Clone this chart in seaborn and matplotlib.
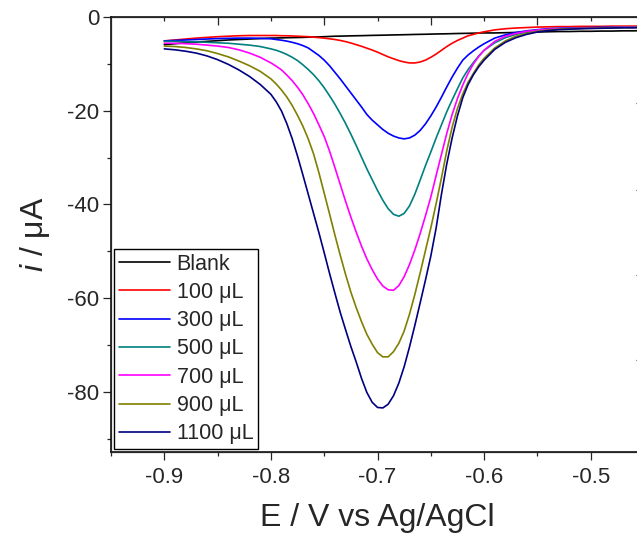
import numpy as np
import matplotlib
matplotlib.use("Agg")
import matplotlib.pyplot as plt
import seaborn as sns
import pandas as pd

# potential (V vs Ag/AgCl), finer around the peaks
E = [-0.90, -0.89, -0.88, -0.87, -0.86, -0.85, -0.84, -0.83, -0.82, -0.81,
     -0.800, -0.795, -0.790, -0.785, -0.780, -0.775, -0.770, -0.765, -0.760, -0.755,
     -0.750, -0.745, -0.740, -0.735, -0.730, -0.725, -0.720, -0.715, -0.710, -0.705,
     -0.700, -0.695, -0.690, -0.685, -0.680, -0.675, -0.670, -0.665, -0.660, -0.655,
     -0.650, -0.645, -0.640, -0.635, -0.630, -0.625, -0.620, -0.615, -0.610, -0.605,
     -0.60, -0.59, -0.58, -0.57, -0.56, -0.55, -0.54, -0.53, -0.52, -0.51,
     -0.50, -0.49, -0.48, -0.47, -0.46, -0.45]

blank = [-5.9, -5.7, -5.5, -5.35, -5.2, -5.05, -4.9, -4.8, -4.7, -4.6,
         -4.5, -4.48, -4.45, -4.42, -4.4, -4.37, -4.35, -4.3, -4.27, -4.25,
         -4.2, -4.15, -4.1, -4.08, -4.05, -4.02, -4.0, -3.98, -3.95, -3.92,
         -3.9, -3.88, -3.85, -3.82, -3.8, -3.78, -3.75, -3.72, -3.7, -3.68,
         -3.65, -3.62, -3.6, -3.58, -3.55, -3.52, -3.5, -3.48, -3.45, -3.42,
         -3.4, -3.4, -3.35, -3.3, -3.25, -3.2, -3.15, -3.1, -3.1, -3.05,
         -3.05, -3.0, -3.0, -2.95, -2.95, -2.9]
ul100 = [-5.1, -4.9, -4.7, -4.5, -4.35, -4.2, -4.1, -4.0, -3.95, -3.95,
         -3.95, -3.95, -4.0, -4.0, -4.05, -4.1, -4.15, -4.2, -4.3, -4.4,
         -4.5, -4.65, -4.8, -5.0, -5.25, -5.55, -5.9, -6.25, -6.65, -7.05,
         -7.5, -8.0, -8.5, -8.9, -9.3, -9.6, -9.8, -9.8, -9.6, -9.2,
         -8.6, -7.9, -7.1, -6.3, -5.6, -5.0, -4.5, -4.0, -3.7, -3.4,
         -3.15, -2.75, -2.5, -2.35, -2.25, -2.15, -2.1, -2.05, -2.05, -2.0,
         -2.0, -2.0, -1.95, -1.95, -1.95, -1.9]
ul300 = [-5.1, -5.0, -4.9, -4.8, -4.7, -4.6, -4.55, -4.5, -4.5, -4.55,
         -4.65, -4.8, -4.95, -5.15, -5.4, -5.7, -6.1, -6.6, -7.4, -8.2,
         -9.2, -10.4, -11.8, -13.2, -14.7, -16.2, -17.7, -19.2, -20.8, -22.0,
         -23.0, -24.0, -24.8, -25.4, -25.8, -26.0, -25.8, -25.2, -24.2, -22.8,
         -21.1, -19.2, -17.1, -14.9, -12.8, -10.9, -9.2, -8.1, -7.2, -6.4,
         -5.7, -4.5, -3.8, -3.3, -2.95, -2.7, -2.5, -2.4, -2.35, -2.3,
         -2.25, -2.2, -2.2, -2.15, -2.15, -2.1]
ul500 = [-5.2, -5.2, -5.3, -5.3, -5.4, -5.5, -5.6, -5.8, -6.0, -6.3,
         -6.8, -7.1, -7.5, -8.0, -8.6, -9.3, -10.2, -11.2, -12.3, -13.6,
         -15.1, -16.8, -18.6, -20.6, -22.7, -25.0, -27.4, -29.9, -32.4, -34.7,
         -37.0, -39.1, -40.9, -42.1, -42.5, -41.9, -40.3, -37.8, -34.8, -31.7,
         -28.8, -25.8, -23.0, -20.2, -17.7, -15.3, -13.0, -11.2, -9.7, -8.3,
         -7.1, -5.5, -4.4, -3.7, -3.2, -2.9, -2.7, -2.55, -2.45, -2.4,
         -2.35, -2.3, -2.25, -2.2, -2.2, -2.15]
ul700 = [-5.6, -5.6, -5.7, -5.8, -6.0, -6.2, -6.5, -7.0, -7.7, -8.6,
         -9.8, -10.5, -11.3, -12.4, -13.6, -15.0, -16.6, -18.5, -20.6, -23.0,
         -25.5, -28.6, -32.1, -35.7, -39.3, -42.7, -45.9, -48.9, -51.6, -53.9,
         -55.9, -57.4, -58.2, -58.3, -57.3, -55.4, -52.8, -49.7, -46.2, -42.4,
         -38.4, -33.8, -29.3, -24.8, -20.8, -17.4, -14.5, -12.0, -10.0, -8.4,
         -7.1, -5.2, -4.1, -3.5, -3.05, -2.8, -2.6, -2.5, -2.45, -2.4,
         -2.35, -2.3, -2.25, -2.2, -2.2, -2.15]
ul900 = [-6.2, -6.3, -6.5, -6.8, -7.2, -7.8, -8.5, -9.4, -10.4, -11.6,
         -13.2, -14.3, -15.6, -17.1, -18.9, -21.0, -23.3, -26.0, -29.2, -33.2,
         -37.6, -42.0, -46.5, -50.8, -54.9, -58.7, -62.0, -65.0, -67.7, -69.8,
         -71.6, -72.5, -72.5, -71.4, -69.6, -67.0, -63.4, -59.2, -54.6, -49.8,
         -45.0, -39.8, -34.3, -28.5, -23.5, -19.5, -16.4, -13.9, -12.0, -10.2,
         -8.8, -6.6, -5.1, -4.1, -3.5, -3.05, -2.8, -2.6, -2.5, -2.45,
         -2.4, -2.35, -2.3, -2.25, -2.25, -2.2]
ul1100 = [-6.8, -7.0, -7.3, -7.7, -8.3, -9.1, -10.1, -11.3, -12.7, -14.4,
          -16.5, -18.1, -20.1, -22.8, -26.0, -29.7, -33.7, -37.8, -41.9, -46.0,
          -50.3, -54.7, -58.9, -63.0, -66.7, -70.3, -73.6, -77.1, -80.1, -82.2,
          -83.3, -83.4, -82.6, -80.8, -78.1, -74.6, -70.4, -65.8, -61.0, -56.1,
          -51.0, -45.0, -37.8, -31.3, -25.8, -21.1, -17.2, -14.4, -12.3, -10.6,
          -9.2, -6.9, -5.4, -4.4, -3.7, -3.2, -2.9, -2.7, -2.6, -2.5,
          -2.45, -2.4, -2.35, -2.3, -2.3, -2.25]

labels = ["Blank", "100 μL", "300 μL", "500 μL", "700 μL", "900 μL", "1100 μL"]
colors = ["#000000", "#FF0000", "#0000FF", "#008080", "#FF00FF", "#808000", "#000080"]
series = [blank, ul100, ul300, ul500, ul700, ul900, ul1100]

frames = []
for lab, vals in zip(labels, series):
    frames.append(pd.DataFrame({"E": E, "i": vals, "sample": lab}))
df = pd.concat(frames, ignore_index=True)

sns.set_style("ticks")
plt.rcParams["font.family"] = ["Liberation Sans", "DejaVu Sans"]
plt.rcParams["axes.unicode_minus"] = False
plt.rcParams["mathtext.fontset"] = "custom"
plt.rcParams["mathtext.it"] = "Liberation Sans:italic"
plt.rcParams["mathtext.rm"] = "Liberation Sans"

fig = plt.figure(figsize=(6.37, 5.33), dpi=100)
ax = fig.add_axes([0.1743, 0.152, 0.8367, 0.8161])

sns.lineplot(data=df, x="E", y="i", hue="sample", hue_order=labels,
             palette=colors, linewidth=1.2, ax=ax, sort=False)

ax.set_xlim(-0.95, -0.45)
ax.set_ylim(-92.8, 0)
ax.set_xticks([-0.9, -0.8, -0.7, -0.6, -0.5])
ax.set_xticks([-0.95, -0.85, -0.75, -0.65, -0.55, -0.45], minor=True)
ax.set_yticks([0, -20, -40, -60, -80])
ax.set_yticks([-10, -30, -50, -70, -90], minor=True)
ax.tick_params(which="major", direction="out", length=5.5, width=0.9,
               labelsize=16, top=False, right=False)
ax.tick_params(which="minor", direction="out", length=3, width=0.9,
               top=False, right=False)
ax.tick_params(axis="x", which="major", pad=5)
ax.tick_params(axis="y", which="major", pad=3)
for s in ax.spines.values():
    s.set_linewidth(1.1)
    s.set_color("black")

ax.set_xlabel("E / V vs Ag/AgCl", fontsize=23, labelpad=11)
ax.set_ylabel(r"$\it{i}$ / μA", fontsize=23, labelpad=11)

# top and right axes carry their own tick sets (no labels)
axt = ax.twiny()
axt.set_xlim(ax.get_xlim())
axt.set_xticks([-0.85, -0.75, -0.65, -0.55, -0.45])
axt.set_xticks([-0.9, -0.8, -0.7, -0.6, -0.5], minor=True)
axt.tick_params(which="major", direction="in", length=5.5, width=0.9, labeltop=False)
axt.tick_params(which="minor", direction="in", length=3, width=0.9)
axr = ax.twinx()
axr.set_ylim(ax.get_ylim())
axr.set_yticks([-18.3, -36.9, -55.0, -73.2])
axr.tick_params(direction="in", length=5.5, width=0.9, labelright=False)

handles, _ = ax.get_legend_handles_labels()
leg = ax.legend(handles, labels, loc="lower left", bbox_to_anchor=(0, 0),
                borderaxespad=0.15, fontsize=15.5, frameon=True, fancybox=False,
                edgecolor="black", framealpha=1, handlelength=2.4,
                handletextpad=0.3, labelspacing=0.34, borderpad=0.2)
leg.get_frame().set_linewidth(1.0)
for ln in leg.get_lines():
    ln.set_linewidth(1.2)

fig.savefig("out.png", dpi=100)
